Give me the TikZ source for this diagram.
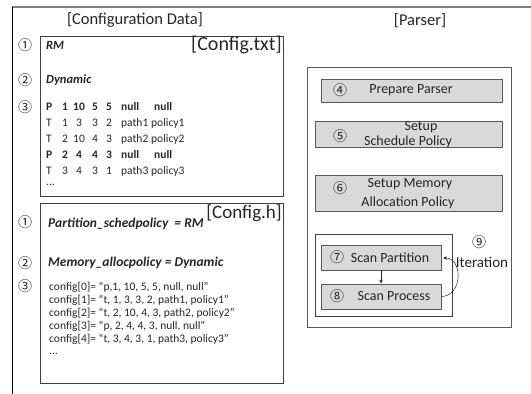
\documentclass[tikz,border=0pt]{standalone}
\usepackage{fontspec}
\setmainfont{Carlito}
\newfontfamily\circfont{Noto Sans CJK SC}
\usetikzlibrary{arrows.meta}
\definecolor{txt}{HTML}{262626}
\definecolor{boxline}{HTML}{404040}
\definecolor{grayfill}{HTML}{D9D9D9}
\definecolor{grayline}{HTML}{595959}
\definecolor{frameline}{HTML}{808080}
\begin{document}
\begin{tikzpicture}[x=1pt,y=-1pt,
  every node/.style={text=txt, inner sep=0pt},
  title/.style={font=\fontsize{16.5}{18}\selectfont},
  flabel/.style={font=\fontsize{19}{21}\selectfont, anchor=east},
  circ/.style={font=\circfont\fontsize{14}{14}\selectfont},
  cfgbox/.style={draw=boxline, line width=0.8pt, minimum width=243pt},
  bi/.style={font=\fontsize{12.5}{14}\selectfont\bfseries\itshape, anchor=west},
  row/.style={font=\fontsize{11.5}{13}\selectfont, anchor=west},
  rowb/.style={font=\fontsize{11.5}{13}\selectfont\bfseries, anchor=west},
  code/.style={font=\fontsize{11.5}{13}\selectfont, anchor=west},
  parserbox/.style={draw=grayline, line width=0.8pt, fill=white},
  graybox/.style={draw=grayline, line width=0.8pt, fill=grayfill},
  btxt/.style={font=\fontsize{14}{16}\selectfont},
  arr/.style={-{Stealth[length=4pt,width=3.5pt]}, line width=0.5pt, draw=txt}
]
\useasboundingbox (0,0) rectangle (531,394);
% outer frame
\coordinate (ftl) at (12,7);
\coordinate (ftr) at (531,7);
\coordinate (fbl) at (12,394);
\draw[frameline, line width=1.8pt] (ftl) -- (ftr);
\draw[black, line width=0.8pt] (ftl) -- (fbl);

% titles
\node[title] (tcd) at (135,20) {[Configuration Data]};
\node[title] (tps) at (420,21) {[Parser]};

% Config.txt box
\node[cfgbox, minimum height=160pt] (ctxt) at (161.5,116) {};
\node[flabel, font=\fontsize{20}{22}\selectfont] (lctxt) at (282,45) {[Config.txt]};
\node[circ] (c1a) at (25,45) {①};
\node[circ] (c2a) at (25,80) {②};
\node[circ] (c3a) at (25,107) {③};
\node[bi] (rm) at (46,45) {RM};
\node[bi] (dyn) at (46,80) {Dynamic};

% rows
\foreach \y/\sty/\a/\b/\c/\d/\e/\f/\g [count=\i] in {
  107/rowb/P/1/10/5/5/null/null,
  123/row/T/1/3/3/2/path1/policy1,
  139/row/T/2/10/4/3/path2/policy2,
  155/rowb/P/2/4/4/3/null/null,
  171/row/T/3/4/3/1/path3/policy3}{
  \node[\sty] (r\i a) at (46,\y) {\a};
  \node[\sty, anchor=center] (r\i b) at (65,\y) {\b};
  \node[\sty, anchor=center] (r\i c) at (79,\y) {\c};
  \node[\sty, anchor=center] (r\i d) at (95,\y) {\d};
  \node[\sty, anchor=center] (r\i e) at (109,\y) {\e};
  \node[\sty] (r\i f) at (121,\y) {\f};
  \node[\sty] (r\i g) at (\ifnum\i=1 154\else\ifnum\i=4 154\else 151\fi\fi,\y) {\g};
}
\node[row] (rdots) at (46,185) {...};

% Config.h box
\node[cfgbox, minimum height=180pt] (ch) at (161.5,293) {};
\node[flabel] (lch) at (282,213) {[Config.h]};
\node[circ] (c1b) at (25,222) {①};
\node[circ] (c2b) at (25,263) {②};
\node[circ] (c3b) at (25,286) {③};
\node[bi, font=\fontsize{13.5}{15}\selectfont\bfseries\itshape] (psp) at (48,224) {Partition\_schedpolicy\ \ = RM};
\node[bi, font=\fontsize{13.5}{15}\selectfont\bfseries\itshape] (map) at (48,263) {Memory\_allocpolicy = Dynamic};
\node[code] (k0) at (49,287) {config[0]= “p,1, 10, 5, 5, null, null”};
\node[code] (k1) at (49,300) {config[1]= “t, 1, 3, 3, 2, path1, policy1”};
\node[code] (k2) at (49,313) {config[2]= “t, 2, 10, 4, 3, path2, policy2”};
\node[code] (k3) at (49,326) {config[3]= “p, 2, 4, 4, 3, null, null”};
\node[code] (k4) at (49,339) {config[4]= “t, 3, 4, 3, 1, path3, policy3”};
\node[code] (kd) at (49,354) {...};

% Parser
\node[parserbox, minimum width=204pt, minimum height=260pt] (parser) at (409,197) {};
\node[graybox, minimum width=181pt, minimum height=23pt] (prep) at (411.5,90.5) {};
\node[btxt] (tprep) at (411,90.5) {Prepare Parser};
\node[circ] (c4) at (340,90.5) {④};

\node[graybox, minimum width=187pt, minimum height=26pt] (sched) at (408.5,134) {};
\node[btxt] (tsched1) at (421,127) {Setup};
\node[btxt] (tsched2) at (408,141.5) {Schedule Policy};
\node[circ] (c5) at (340,136) {⑤};

\node[graybox, minimum width=187pt, minimum height=36pt] (mem) at (408.5,193) {};
\node[btxt] (tmem1) at (410,184) {Setup Memory};
\node[btxt] (tmem2) at (408,203) {Allocation Policy};
\node[circ] (c6) at (340,188) {⑥};

\node[draw=boxline, line width=0.8pt, fill=white, minimum width=137pt, minimum height=82pt] (iter) at (383.5,275) {};
\node[graybox, minimum width=120pt, minimum height=25pt] (spart) at (381,257.5) {};
\node[btxt] (tspart) at (390,257.5) {Scan Partition};
\node[circ] (c7) at (337,257.5) {⑦};
\node[graybox, minimum width=120pt, minimum height=25pt] (sproc) at (381,296.5) {};
\node[btxt] (tsproc) at (394,296.5) {Scan Process};
\node[circ] (c8) at (337,296.5) {⑧};

\draw[arr] (spart.south) -- (sproc.north);
\coordinate (iterin) at (443,258);
\draw[arr] (sproc.east) .. controls (463,296) and (463,258) .. (iterin);
\node[circ] (c9) at (479,242) {⑨};
\node[btxt, font=\fontsize{15}{17}\selectfont] (titer) at (482,262) {Iteration};
\end{tikzpicture}
\end{document}
